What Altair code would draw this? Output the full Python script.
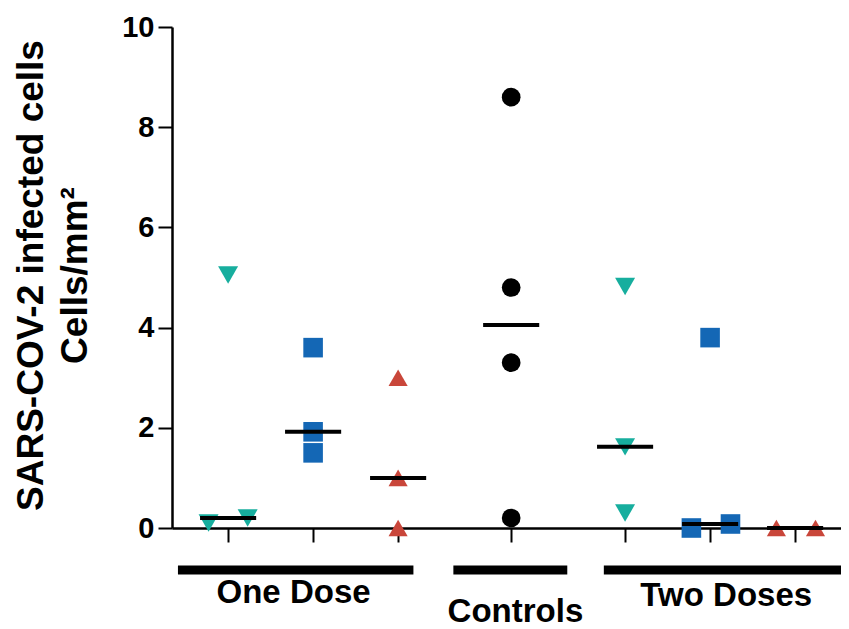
import altair as alt
import pandas as pd
import numpy as np

# ---- data ----
one_dose_teal = [5.05, 0.10, 0.20]
one_dose_blue = [3.60, 1.92, 1.50]
one_dose_red = [3.00, 1.00, 0.00]
controls = [8.60, 4.80, 3.30, 0.20]
two_dose_teal = [4.82, 1.62, 0.30]
two_dose_blue = [3.80, 0.00, 0.08]
two_dose_red = [0.00, 0.00]

group_names = ["One Dose", "Controls", "Two Doses"]

# ---- layout (positions on the x scale, not data) ----
series = [
    ("1D-teal", one_dose_teal, 0.00, [0.0, -0.23, 0.23], "teal"),
    ("1D-blue", one_dose_blue, 1.00, [0.0, 0.0, 0.0], "blue"),
    ("1D-red", one_dose_red, 2.00, [0.0, 0.0, 0.0], "red"),
    ("Ctrl", controls, 3.33, [0.0, 0.0, 0.0, 0.0], "black"),
    ("2D-teal", two_dose_teal, 4.67, [0.0, 0.0, 0.0], "teal"),
    ("2D-blue", two_dose_blue, 5.67, [0.0, -0.22, 0.24], "blue"),
    ("2D-red", two_dose_red, 6.67, [-0.22, 0.24], "red"),
]
bracket_start = [-0.59, 2.65, 4.42]
bracket_end = [2.18, 3.99, 7.40]
label_x = [0.77, 3.38, 5.86]
label_y_px = [566, 585, 569]

kinds = ["teal", "blue", "red", "black"]
kind_colors = ["#17AE9E", "#1467B5", "#C9463A", "#000000"]
kind_shapes = ["triangle-down", "square", "triangle-up", "circle"]
kind_sizes = [400, 350, 400, 372]

FONT = "Liberation Sans"

rows = []
med_rows = []
for name, vals, pos, offs, kind in series:
    for v, o in zip(vals, offs):
        rows.append({"series": name, "kind": kind, "x": pos + o, "value": v})
    med_rows.append({"series": name, "m": float(np.median(vals)),
                     "x1": pos - 0.33, "x2": pos + 0.33})
pts = pd.DataFrame(rows)
meds = pd.DataFrame(med_rows)
brackets = pd.DataFrame({"group": group_names, "x1": bracket_start, "x2": bracket_end})

tick_positions = [s[2] for s in series]

xscale = alt.Scale(domain=[-0.66, 7.21], nice=False, zero=False)
yscale = alt.Scale(domain=[0, 10], nice=False)

x_axis = alt.Axis(values=tick_positions, labels=False, title=None, grid=False,
                  tickSize=14, tickWidth=2, tickColor="black",
                  domainColor="black", domainWidth=2.5)
y_axis = alt.Axis(values=[0, 2, 4, 6, 8, 10], grid=False,
                  tickSize=14, tickWidth=2, tickColor="black",
                  domainColor="black", domainWidth=2.5,
                  labelFont=FONT, labelFontSize=29, labelFontWeight="bold",
                  labelColor="black", labelPadding=4,
                  title=["SARS-COV-2 infected cells", "Cells/mm²"],
                  titleFont=FONT, titleFontSize=37, titleFontWeight="bold",
                  titleColor="black", titleLineHeight=44,
                  titleAngle=-90, titleAlign="center", titleBaseline="alphabetic",
                  titleX=-130, titleY=248)

points = alt.Chart(pts).mark_point(filled=True, opacity=1, strokeWidth=0).encode(
    x=alt.X("x:Q", scale=xscale, axis=x_axis),
    y=alt.Y("value:Q", scale=yscale, axis=y_axis),
    color=alt.Color("kind:N", scale=alt.Scale(domain=kinds, range=kind_colors), legend=None),
    shape=alt.Shape("kind:N", scale=alt.Scale(domain=kinds, range=kind_shapes), legend=None),
    size=alt.Size("kind:N", scale=alt.Scale(domain=kinds, range=kind_sizes), legend=None),
)

medians = alt.Chart(meds).mark_rule(color="black", strokeWidth=4).encode(
    x=alt.X("x1:Q", scale=xscale),
    x2="x2:Q",
    y=alt.Y("m:Q", scale=yscale),
)

bars = alt.Chart(brackets).mark_rule(color="black", strokeWidth=9).encode(
    x=alt.X("x1:Q", scale=xscale),
    x2="x2:Q",
    y=alt.value(543),
)

label_layers = []
for g, lx, ly in zip(group_names, label_x, label_y_px):
    label_layers.append(
        alt.Chart(pd.DataFrame({"group": [g], "x": [lx]})).mark_text(
            font=FONT, fontSize=33, fontWeight="bold", color="black",
            align="center", baseline="middle"
        ).encode(x=alt.X("x:Q", scale=xscale), y=alt.value(ly), text="group:N")
    )

chart = alt.layer(points, medians, bars, *label_layers).properties(
    width=669, height=501,
    background="white",
    autosize=alt.AutoSizeParams(type="none"),
    padding={"left": 164, "top": 19, "right": 0, "bottom": 100},
).configure_view(stroke=None, strokeWidth=0)

chart.save("out.html", embed_options={"renderer": "svg", "actions": False})
